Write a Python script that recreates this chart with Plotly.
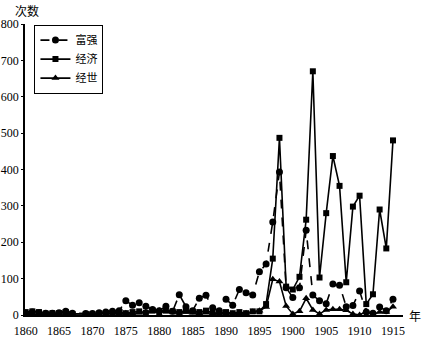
import plotly.graph_objects as go

years = list(range(1860, 1916))

fuqiang = [5, 8, 6, 5, 5, 6, 10, 5, None, 4, 4, 6, 8, 10, 12, 39, 27, 34, 24, 15,
           12, 24, 10, 56, 23, 12, 46, 54, 20, 12, 43, 27, 70, 61, 55, 119, 140, 256, 393, 75,
           48, 75, 233, 55, 39, 31, 85, 82, 23, 26, 66, 8, 5, 22, 12, 43]

jingji = [8, 10, 8, 4, 5, 5, 8, 3, None, 3, 3, 4, 5, 6, 8, 5, 8, 10, 6, 12,
          8, 12, 10, 8, 12, 10, 8, 12, 6, 5, 8, 5, 8, 5, 10, 10, 30, 155, 487, 78,
          70, 105, 262, 670, 103, 280, 437, 355, 90, 298, 328, 30, 57, 290, 183, 480]

jingshi = [2, 3, 2, 2, 2, 2, 3, 2, None, 2, 2, 2, 3, 3, 4, 5, 4, 6, 8, 10,
           12, 10, 8, 6, 8, 6, 5, 6, 4, 3, 4, 3, 5, 5, 8, 12, 22, 98, 92, 25,
           3, 10, 46, 14, 3, 14, 16, 16, 13, 3, 0, 10, 2, 8, 8, 23]

x_ticks = [1860, 1865, 1870, 1875, 1880, 1885, 1890, 1895, 1900, 1905, 1910, 1915]
y_ticks = [0, 100, 200, 300, 400, 500, 600, 700, 800]

fig = go.Figure()
fig.add_trace(go.Scatter(x=years, y=fuqiang, name="富强", mode="lines+markers",
                         connectgaps=True,
                         line=dict(color="black", width=1.6, dash="dash"),
                         marker=dict(symbol="circle", size=7, color="black")))
fig.add_trace(go.Scatter(x=years, y=jingji, name="经济", mode="lines+markers",
                         connectgaps=True,
                         line=dict(color="black", width=1.6),
                         marker=dict(symbol="square", size=6, color="black")))
fig.add_trace(go.Scatter(x=years, y=jingshi, name="经世", mode="lines+markers",
                         connectgaps=True,
                         line=dict(color="black", width=1.6),
                         marker=dict(symbol="triangle-up", size=7, color="black")))

serif = "Liberation Serif"
fig.update_layout(
    width=423, height=342,
    margin=dict(l=25, r=20, t=24, b=27),
    paper_bgcolor="white", plot_bgcolor="white",
    showlegend=True,
    legend=dict(x=0.025, y=0.998, xanchor="left", yanchor="top",
                bordercolor="black", borderwidth=1, bgcolor="white",
                font=dict(family="Noto Sans CJK SC", size=11, color="black"),
                itemwidth=30, tracegroupgap=0),
    font=dict(family=serif, color="black", size=12),
)
fig.update_xaxes(range=[1859.9, 1916.5], tickvals=x_ticks, ticktext=[str(t) for t in x_ticks],
                 showgrid=False, zeroline=False, showline=True, linecolor="black", linewidth=1.5,
                 ticks="outside", ticklen=4, tickcolor="rgba(0,0,0,0)", automargin=False,
                 tickfont=dict(family=serif, size=12, color="black"))
fig.update_yaxes(range=[0, 800], tickvals=y_ticks, ticktext=[str(t) for t in y_ticks],
                 showgrid=False, zeroline=False, showline=True, linecolor="black", linewidth=1.5,
                 ticks="outside", ticklen=2, tickcolor="black", automargin=False,
                 tickfont=dict(family=serif, size=12, color="black"))
fig.add_annotation(x=0, y=1.0, xref="paper", yref="paper", xanchor="left", yanchor="bottom",
                   xshift=-12, yshift=3, text="次数", showarrow=False,
                   font=dict(family="Noto Sans CJK SC", size=12, color="black"))
fig.add_annotation(x=1.0, y=0, xref="paper", yref="paper", xanchor="left", yanchor="middle",
                   xshift=4, text="年", showarrow=False,
                   font=dict(family="Noto Sans CJK SC", size=12, color="black"))
fig.write_html("out.html")
